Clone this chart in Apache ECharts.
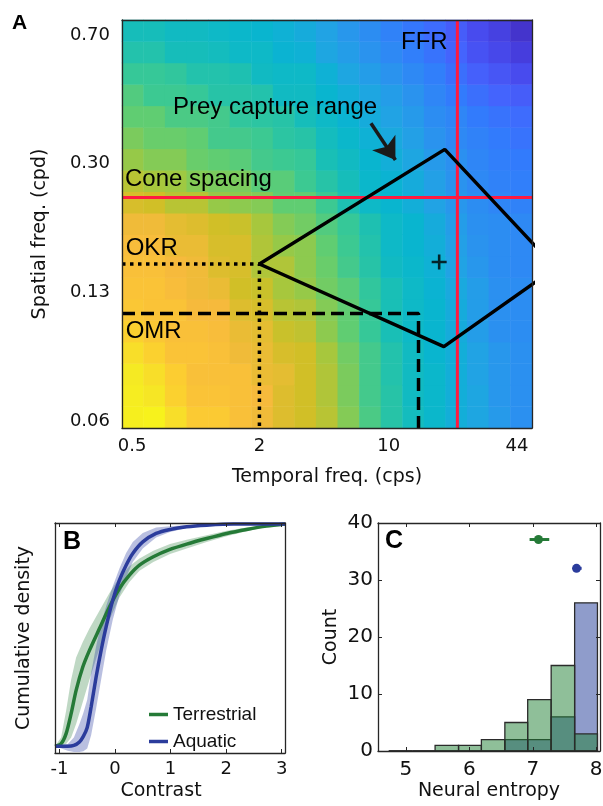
<!DOCTYPE html>
<html>
<head>
<meta charset="utf-8">
<script src="https://cdn.jsdelivr.net/npm/echarts@6.0.0/dist/echarts.min.js"></script>
<style>
html,body{margin:0;padding:0;background:#ffffff;}
#chart{width:603px;height:806px;}
</style>
</head>
<body>
<div id="chart"></div>
<script>
// ---------------- Panel A : response map ----------------
const temporalBins = [0.50,0.65,0.83,1.07,1.38,1.77,2.28,2.92,3.76,4.83,6.21,7.98,10.3,13.2,16.9,21.8,28.0,36.0,46.2];
const spatialBins = [0.0614,0.0705,0.0808,0.0926,0.106,0.122,0.140,0.160,0.183,0.210,0.241,0.276,0.317,0.363,0.416,0.477,0.547,0.627,0.719];
// rows = spatial bins (low -> high), columns = temporal bins (low -> high)
const responseGrid = [
  [0.96,0.97,0.91,0.86,0.86,0.83,0.80,0.77,0.75,0.72,0.66,0.59,0.53,0.48,0.45,0.41,0.38,0.34,0.31],
  [0.95,0.93,0.88,0.84,0.84,0.83,0.81,0.77,0.75,0.71,0.65,0.58,0.53,0.47,0.45,0.41,0.38,0.33,0.31],
  [0.94,0.91,0.87,0.83,0.83,0.83,0.79,0.78,0.75,0.71,0.65,0.58,0.52,0.47,0.45,0.41,0.37,0.33,0.31],
  [0.91,0.88,0.84,0.84,0.83,0.80,0.79,0.76,0.75,0.70,0.64,0.58,0.52,0.47,0.44,0.41,0.37,0.33,0.31],
  [0.88,0.85,0.83,0.83,0.82,0.79,0.78,0.74,0.73,0.67,0.62,0.56,0.50,0.46,0.44,0.40,0.35,0.31,0.30],
  [0.85,0.84,0.84,0.81,0.81,0.77,0.76,0.72,0.71,0.66,0.62,0.56,0.50,0.46,0.44,0.40,0.35,0.31,0.30],
  [0.84,0.84,0.82,0.80,0.79,0.75,0.74,0.70,0.68,0.64,0.61,0.55,0.50,0.46,0.43,0.39,0.35,0.31,0.30],
  [0.83,0.83,0.81,0.80,0.77,0.76,0.71,0.71,0.67,0.63,0.58,0.53,0.47,0.45,0.42,0.37,0.33,0.30,0.29],
  [0.82,0.82,0.79,0.79,0.76,0.76,0.71,0.68,0.67,0.62,0.57,0.52,0.46,0.44,0.41,0.36,0.32,0.30,0.29],
  [0.80,0.80,0.78,0.77,0.75,0.74,0.70,0.66,0.64,0.60,0.56,0.51,0.46,0.44,0.40,0.35,0.31,0.30,0.29],
  [0.76,0.75,0.72,0.72,0.68,0.67,0.66,0.62,0.62,0.57,0.51,0.46,0.44,0.41,0.37,0.33,0.30,0.28,0.27],
  [0.72,0.70,0.69,0.66,0.65,0.65,0.61,0.61,0.57,0.53,0.49,0.45,0.43,0.40,0.36,0.32,0.29,0.27,0.26],
  [0.68,0.66,0.66,0.63,0.62,0.61,0.58,0.57,0.56,0.50,0.47,0.44,0.41,0.38,0.34,0.31,0.28,0.26,0.25],
  [0.65,0.63,0.63,0.62,0.58,0.58,0.57,0.54,0.53,0.48,0.45,0.42,0.39,0.36,0.32,0.29,0.27,0.25,0.23],
  [0.62,0.62,0.59,0.59,0.58,0.55,0.54,0.53,0.49,0.46,0.43,0.40,0.37,0.34,0.30,0.28,0.25,0.23,0.21],
  [0.60,0.57,0.57,0.56,0.53,0.53,0.52,0.47,0.47,0.44,0.41,0.38,0.35,0.32,0.28,0.25,0.22,0.19,0.17],
  [0.56,0.56,0.55,0.52,0.52,0.51,0.47,0.46,0.46,0.42,0.38,0.35,0.32,0.29,0.26,0.22,0.18,0.15,0.12],
  [0.52,0.52,0.49,0.49,0.48,0.46,0.46,0.43,0.42,0.38,0.35,0.32,0.29,0.26,0.23,0.19,0.14,0.11,0.08],
  [0.49,0.49,0.47,0.47,0.46,0.45,0.44,0.42,0.40,0.37,0.33,0.30,0.27,0.24,0.21,0.17,0.12,0.09,0.05]
];
const temporalTicks = [0.5, 2.2, 9.9, 44];
const temporalTickLabels = ['0.5', '2', '10', '44'];
const spatialTicks = [0.06, 0.136, 0.309, 0.70];
const spatialTickLabels = ['0.06', '0.13', '0.30', '0.70'];
const temporalRange = [0.445, 52.4];
const spatialRange = [0.0574, 0.770];
const coneSpacing = 0.249;          // cpd
const ffrFrequency = 22;            // cps
const okrPoint = [2.2, 0.163];
const omrPoint = [14, 0.119];
const preyCaptureRange = [[2.2, 0.163], [19, 0.338], [69, 0.159], [18.8, 0.0963], [2.2, 0.163]];
const preyCaptureCenter = [17.8, 0.165];
const arrowStart = [8.05, 0.399];
const arrowEnd = [10.7, 0.316];

// ---------------- Panel B : contrast CDF ----------------
const terrestrialContrast = [-1.08,-0.97,-0.88,-0.79,-0.70,-0.58,-0.46,-0.28,-0.10,0.08,0.26,0.44,0.69,0.99,1.29,1.65,2.01,2.37,2.73,3.06];
const terrestrialCdf  = [0,0.012,0.057,0.147,0.252,0.357,0.432,0.53,0.627,0.71,0.77,0.815,0.853,0.886,0.91,0.935,0.958,0.976,0.991,1.0];
const terrestrialLow  = [0,0,0.01,0.04,0.10,0.20,0.30,0.44,0.57,0.67,0.74,0.79,0.83,0.865,0.89,0.92,0.945,0.968,0.988,1.0];
const terrestrialHigh = [0,0.04,0.16,0.30,0.40,0.47,0.53,0.61,0.69,0.76,0.81,0.845,0.88,0.91,0.93,0.95,0.97,0.985,0.995,1.0];
const aquaticContrast = [-1.08,-0.85,-0.74,-0.64,-0.57,-0.50,-0.43,-0.34,-0.25,-0.16,-0.04,0.08,0.20,0.32,0.50,0.74,0.99,1.29,1.65,2.13,3.06];
const aquaticCdf  = [0,0,0.004,0.02,0.045,0.085,0.177,0.312,0.432,0.538,0.658,0.748,0.815,0.868,0.92,0.958,0.976,0.988,0.995,1.0,1.0];
const aquaticLow  = [0,-0.02,-0.025,-0.025,-0.022,-0.01,0.05,0.17,0.30,0.43,0.57,0.68,0.76,0.83,0.89,0.94,0.965,0.982,0.992,0.998,1.0];
const aquaticHigh = [0,0.01,0.04,0.10,0.15,0.21,0.33,0.45,0.55,0.63,0.72,0.80,0.87,0.92,0.96,0.985,0.99,0.995,1.0,1.0,1.0];
const contrastTicks = [-1, 0, 1, 2, 3];

// ---------------- Panel C : neural entropy ----------------
const entropyBinEdges = [4.73, 5.10, 5.46, 5.83, 6.19, 6.56, 6.92, 7.29, 7.66, 8.02];
const terrestrialCounts = [0, 0, 1, 1, 2, 5, 9, 15, 3];
const aquaticCounts     = [0, 0, 0, 0, 0, 2, 2, 6, 26];
const entropyMeans = [7.09, 7.69];
const entropyLow   = [6.95, 7.64];
const entropyHigh  = [7.26, 7.77];
const entropyMarkerY = [37.1, 32.05];
const entropyTicks = [5, 6, 7, 8];

// ---------------- styling ----------------
const GREEN = '#257a37';
const BLUE = '#2b3c9c';
const RED = '#ff1a40';
const AX = '#262626';
const TICKFONT = 'DejaVu Sans';
const parula = ['#3e26a8','#4537d5','#484df0','#4563fd','#327bfc','#2b91ef','#20a5e3','#08b5d0',
                '#19bfb6','#37c897','#64cd6f','#9dc943','#d1bf27','#f8ba3d','#fccf30','#f5e924','#f9fb14'];

const heatData = [];
responseGrid.forEach((row, j) => row.forEach((v, i) => heatData.push([i, j, v])));

function nearestLabel(ticks, labels) {
  return function (v) {
    let best = 0, bd = Infinity;
    ticks.forEach((t, i) => { const d = Math.abs(Math.log(v / t)); if (d < bd) { bd = d; best = i; } });
    return labels[best];
  };
}
const zip = (xs, ys) => xs.map((x, i) => [x, ys[i]]);
const lineAx = () => ({show: true, onZero: false, lineStyle: {color: AX, width: 1.3}});
const noTick = {show: false};
const noSplit = {show: false};

function bandSeries(name, xs, lo, hi, fill) {
  return {
    type: 'custom', name: name, xAxisIndex: 2, yAxisIndex: 2, silent: true, clip: true, z: 2,
    data: xs.map((x, i) => [x, lo[i], hi[i]]),
    encode: {x: 0, y: [1, 2]},
    renderItem: function (params, api) {
      if (params.dataIndex !== 0) return null;
      const pts = [];
      for (let i = 0; i < xs.length; i++) pts.push(api.coord([xs[i], hi[i]]));
      for (let i = xs.length - 1; i >= 0; i--) pts.push(api.coord([xs[i], lo[i]]));
      return {type: 'polygon', shape: {points: pts}, style: {fill: fill}};
    }
  };
}
function histSeries(name, counts, fill, z) {
  return {
    type: 'custom', name: name, xAxisIndex: 4, yAxisIndex: 4, silent: true, z: z,
    data: counts.map((c, i) => [entropyBinEdges[i], entropyBinEdges[i + 1], c]),
    encode: {x: [0, 1], y: 2},
    renderItem: function (params, api) {
      const p0 = api.coord([api.value(0), api.value(2)]);
      const p1 = api.coord([api.value(1), 0]);
      return {type: 'rect', shape: {x: p0[0], y: p0[1], width: p1[0] - p0[0], height: p1[1] - p0[1]},
              style: {fill: fill, stroke: '#2b2b2b', lineWidth: 1.3}};
    }
  };
}

const chart = echarts.init(document.getElementById('chart'), null, {renderer: 'canvas', width: 603, height: 806});

const option = {
  animation: false,
  backgroundColor: '#ffffff',
  textStyle: {fontFamily: TICKFONT, color: '#111'},
  grid: [
    {left: 122, top: 20, width: 410, height: 408, containLabel: false, outerBoundsMode: 'none'},
    {left: 55, top: 523, width: 230, height: 230, containLabel: false, outerBoundsMode: 'none'},
    {left: 378, top: 523, width: 222, height: 228, containLabel: false, outerBoundsMode: 'none'}
  ],
  visualMap: {
    type: 'continuous', show: false, min: 0, max: 1, dimension: 2, seriesIndex: 0,
    inRange: {color: parula}
  },
  legend: {
    data: ['Terrestrial', 'Aquatic'], left: 149, top: 705, orient: 'vertical', icon: 'rect',
    itemWidth: 19, itemHeight: 3.5, itemGap: 8, selectedMode: false, padding: 0,
    textStyle: {fontSize: 19, fontFamily: 'Liberation Sans', color: '#111'}
  },
  xAxis: [
    {gridIndex: 0, type: 'category', data: temporalBins, position: 'top', z: 5,
     axisLine: lineAx(), axisTick: noTick, axisLabel: {show: false}, splitLine: noSplit},
    {gridIndex: 0, type: 'log', logBase: 10, min: temporalRange[0], max: temporalRange[1], position: 'bottom', z: 5,
     axisLine: lineAx(), axisTick: {show: false}, splitLine: noSplit, minorTick: {show: false},
     axisLabel: {customValues: temporalTicks, formatter: nearestLabel(temporalTicks, temporalTickLabels),
                 fontSize: 18, color: '#111', margin: 9},
     name: 'Temporal freq. (cps)', nameLocation: 'middle', nameGap: 40,
     nameTextStyle: {fontSize: 19, color: '#111'}},
    {gridIndex: 1, type: 'value', min: -1.08, max: 3.06, position: 'bottom', z: 5,
     axisLine: lineAx(), splitLine: noSplit,
     axisTick: {inside: true, length: 4, customValues: contrastTicks, lineStyle: {color: AX}},
     axisLabel: {customValues: contrastTicks, formatter: v => String(Math.round(v)), fontSize: 18, color: '#111', margin: 7},
     name: 'Contrast', nameLocation: 'middle', nameGap: 29,
     nameTextStyle: {fontSize: 19, color: '#111', padding: [0, 18, 0, 0]}},
    {gridIndex: 1, type: 'value', min: -1.08, max: 3.06, position: 'top', z: 5,
     axisLine: lineAx(), splitLine: noSplit, axisLabel: {show: false},
     axisTick: {inside: true, length: 4, customValues: contrastTicks, lineStyle: {color: AX}}},
    {gridIndex: 2, type: 'value', min: 4.56, max: 8.06, position: 'bottom', z: 5,
     axisLine: lineAx(), splitLine: noSplit,
     axisTick: {inside: true, length: 4, customValues: entropyTicks, lineStyle: {color: AX}},
     axisLabel: {customValues: entropyTicks, formatter: v => String(Math.round(v)), fontSize: 20, color: '#111', margin: 9},
     name: 'Neural entropy', nameLocation: 'middle', nameGap: 31,
     nameTextStyle: {fontSize: 19, color: '#111'}},
    {gridIndex: 2, type: 'value', min: 4.56, max: 8.06, position: 'top', z: 5,
     axisLine: lineAx(), splitLine: noSplit, axisLabel: {show: false},
     axisTick: {inside: true, length: 4, customValues: entropyTicks, lineStyle: {color: AX}}}
  ],
  yAxis: [
    {gridIndex: 0, type: 'category', data: spatialBins, position: 'right', z: 5,
     axisLine: lineAx(), axisTick: noTick, axisLabel: {show: false}, splitLine: noSplit},
    {gridIndex: 0, type: 'log', logBase: 10, min: spatialRange[0], max: spatialRange[1], position: 'left', z: 5,
     axisLine: lineAx(), axisTick: {show: false}, splitLine: noSplit, minorTick: {show: false},
     axisLabel: {customValues: spatialTicks, formatter: nearestLabel(spatialTicks, spatialTickLabels),
                 fontSize: 18, color: '#111', margin: 12},
     name: 'Spatial freq. (cpd)', nameLocation: 'middle', nameGap: 72, nameRotate: 90,
     nameTextStyle: {fontSize: 19, color: '#111', padding: [0, 20, 0, 0]}},
    {gridIndex: 1, type: 'value', min: -0.03, max: 1.005, position: 'left', z: 5,
     axisLine: lineAx(), axisTick: noTick, axisLabel: {show: false}, splitLine: noSplit,
     name: 'Cumulative density', nameLocation: 'middle', nameGap: 21, nameRotate: 90,
     nameTextStyle: {fontSize: 19, color: '#111'}},
    {gridIndex: 1, type: 'value', min: -0.03, max: 1.005, position: 'right', z: 5,
     axisLine: lineAx(), axisTick: noTick, axisLabel: {show: false}, splitLine: noSplit},
    {gridIndex: 2, type: 'value', min: 0, max: 40, interval: 10, position: 'left', z: 5,
     axisLine: lineAx(), splitLine: noSplit,
     axisTick: {inside: true, length: 4, lineStyle: {color: AX}},
     axisLabel: {fontSize: 20, color: '#111', margin: 5},
     name: 'Count', nameLocation: 'middle', nameGap: 37, nameRotate: 90,
     nameTextStyle: {fontSize: 19, color: '#111'}},
    {gridIndex: 2, type: 'value', min: 0, max: 40, interval: 10, position: 'right', z: 5,
     axisLine: lineAx(), splitLine: noSplit, axisLabel: {show: false},
     axisTick: {inside: true, length: 4, lineStyle: {color: AX}}}
  ],
  series: [
    {type: 'heatmap', name: 'Response', xAxisIndex: 0, yAxisIndex: 0, data: heatData, z: 1,
     itemStyle: {borderWidth: 0}, emphasis: {disabled: true}, progressive: 0},
    {type: 'line', name: 'Cone spacing', xAxisIndex: 1, yAxisIndex: 1, z: 3, silent: true, symbol: 'none',
     data: [[temporalRange[0], coneSpacing], [temporalRange[1], coneSpacing]],
     lineStyle: {color: RED, width: 3}},
    {type: 'line', name: 'FFR', xAxisIndex: 1, yAxisIndex: 1, z: 3, silent: true, symbol: 'none',
     data: [[ffrFrequency, spatialRange[0]], [ffrFrequency, spatialRange[1]]],
     lineStyle: {color: RED, width: 3}},
    {type: 'line', name: 'OKR', xAxisIndex: 1, yAxisIndex: 1, z: 4, silent: true, symbol: 'none',
     data: [[temporalRange[0], okrPoint[1]], okrPoint, [okrPoint[0], spatialRange[0]]],
     lineStyle: {color: '#000', width: 3.5, type: [3.5, 4.5]}},
    {type: 'line', name: 'OMR', xAxisIndex: 1, yAxisIndex: 1, z: 4, silent: true, symbol: 'none',
     data: [[temporalRange[0], omrPoint[1]], omrPoint, [omrPoint[0], spatialRange[0]]],
     lineStyle: {color: '#000', width: 3.5, type: [13, 6]}},
    {type: 'line', name: 'Prey capture range', xAxisIndex: 1, yAxisIndex: 1, z: 4, silent: true, symbol: 'none',
     clip: true, data: preyCaptureRange, lineStyle: {color: '#000', width: 3.5}, 
     markLine: {silent: true, symbol: ['none', 'arrow'], symbolSize: 21, label: {show: false},
                lineStyle: {color: '#1a1a1a', width: 3.5, type: 'solid'},
                data: [[{coord: arrowStart}, {coord: arrowEnd}]]}},
    {type: 'scatter', name: 'Prey capture centre', xAxisIndex: 1, yAxisIndex: 1, z: 4, silent: true,
     data: [preyCaptureCenter], symbol: 'path://M0,5.8h14v2.4h-14z M5.8,0h2.4v14h-2.4z', symbolSize: 15,
     itemStyle: {color: '#000'}},

    bandSeries('Terrestrial range', terrestrialContrast, terrestrialLow, terrestrialHigh, 'rgba(42,125,58,0.30)'),
    bandSeries('Aquatic range', aquaticContrast, aquaticLow, aquaticHigh, 'rgba(42,60,160,0.33)'),
    {type: 'line', name: 'Terrestrial', xAxisIndex: 2, yAxisIndex: 2, z: 3, silent: true, symbol: 'none',
     smooth: 0.25, data: zip(terrestrialContrast, terrestrialCdf),
     color: GREEN, lineStyle: {color: GREEN, width: 3.5}, itemStyle: {color: GREEN}},
    {type: 'line', name: 'Aquatic', xAxisIndex: 2, yAxisIndex: 2, z: 3, silent: true, symbol: 'none',
     smooth: 0.25, data: zip(aquaticContrast, aquaticCdf),
     color: BLUE, lineStyle: {color: BLUE, width: 3.5}, itemStyle: {color: BLUE}},

    histSeries('Aquatic count', aquaticCounts, 'rgba(31,57,151,0.5)', 2),
    histSeries('Terrestrial count', terrestrialCounts, 'rgba(31,127,51,0.5)', 3),
    {type: 'custom', name: 'Mean entropy', xAxisIndex: 4, yAxisIndex: 4, z: 4, silent: true,
     data: entropyMeans.map((m, i) => [m, entropyMarkerY[i], entropyLow[i], entropyHigh[i], i]),
     encode: {x: [0, 2, 3], y: 1},
     renderItem: function (params, api) {
       const c = api.coord([api.value(0), api.value(1)]);
       const lo = api.coord([api.value(2), api.value(1)]);
       const hi = api.coord([api.value(3), api.value(1)]);
       const col = api.value(4) === 0 ? GREEN : BLUE;
       return {type: 'group', children: [
         {type: 'line', shape: {x1: lo[0], y1: lo[1], x2: hi[0], y2: hi[1]}, style: {stroke: col, lineWidth: 3}},
         {type: 'circle', shape: {cx: c[0], cy: c[1], r: 4.5}, style: {fill: col}}
       ]};
     }}
  ],
  graphic: [
    {type: 'text', x: 12, y: 23, z: 100, style: {text: 'A', font: 'bold 21px "Liberation Sans"', fill: '#000', verticalAlign: 'middle'}},
    {type: 'text', x: 401, y: 42.5, z: 100, style: {text: 'FFR', font: '24px "Liberation Sans"', fill: '#000', verticalAlign: 'middle'}},
    {type: 'text', x: 173, y: 107.5, z: 100, style: {text: 'Prey capture range', font: '24px "Liberation Sans"', fill: '#000', verticalAlign: 'middle'}},
    {type: 'text', x: 125, y: 179.3, z: 100, style: {text: 'Cone spacing', font: '24px "Liberation Sans"', fill: '#000', verticalAlign: 'middle'}},
    {type: 'text', x: 125.7, y: 248.5, z: 100, style: {text: 'OKR', font: '24px "Liberation Sans"', fill: '#000', verticalAlign: 'middle'}},
    {type: 'text', x: 125.7, y: 331.8, z: 100, style: {text: 'OMR', font: '24px "Liberation Sans"', fill: '#000', verticalAlign: 'middle'}},
    {type: 'text', x: 63, y: 542, z: 100, style: {text: 'B', font: 'bold 25px "Liberation Sans"', fill: '#000', verticalAlign: 'middle'}},
    {type: 'text', x: 385, y: 541.5, z: 100, style: {text: 'C', font: 'bold 25px "Liberation Sans"', fill: '#000', verticalAlign: 'middle'}}
  ]
};
chart.setOption(option);
</script>
</body>
</html>
